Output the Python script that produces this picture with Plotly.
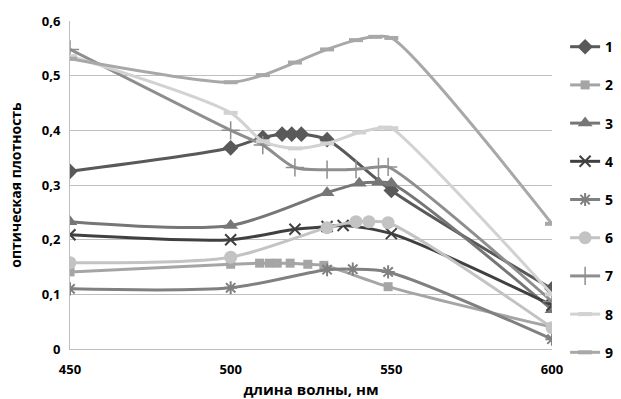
import plotly.graph_objects as go

x1 = [450, 500, 510, 516, 519, 522, 530, 550, 600]
y1 = [0.325, 0.368, 0.387, 0.393, 0.393, 0.393, 0.383, 0.29, 0.11]
x2 = [450, 500, 509, 512, 514.5, 518.5, 524, 529, 549, 600]
y2 = [0.141, 0.155, 0.157, 0.157, 0.157, 0.157, 0.155, 0.153, 0.114, 0.04]
x3 = [450, 500, 530, 540, 546, 550, 600]
y3 = [0.233, 0.226, 0.286, 0.303, 0.305, 0.303, 0.072]
x4 = [450, 500, 520, 530, 535, 550, 600]
y4 = [0.209, 0.2, 0.219, 0.224, 0.226, 0.211, 0.08]
x5 = [450, 500, 530, 538, 549, 600]
y5 = [0.11, 0.112, 0.145, 0.146, 0.141, 0.018]
x6 = [450, 500, 530, 539, 543, 549, 600]
y6 = [0.158, 0.168, 0.222, 0.233, 0.233, 0.231, 0.039]
x7 = [450, 500, 510, 520, 530, 539, 546, 549, 600]
y7 = [0.548, 0.4, 0.373, 0.332, 0.328, 0.329, 0.333, 0.333, 0.087]
x8 = [450, 500, 510, 520, 530, 540, 548, 550, 600]
y8 = [0.536, 0.432, 0.38, 0.367, 0.376, 0.396, 0.405, 0.404, 0.1]
x9 = [450, 500, 510, 520, 530, 539, 545, 550, 600]
y9 = [0.531, 0.488, 0.501, 0.524, 0.548, 0.565, 0.571, 0.569, 0.229]

names = ["1", "2", "3", "4", "5", "6", "7", "8", "9"]
xs = [x1, x2, x3, x4, x5, x6, x7, x8, x9]
ys = [y1, y2, y3, y4, y5, y6, y7, y8, y9]
colors = ["#595959", "#a5a5a5", "#767676", "#404040", "#808080",
          "#c3c3c3", "#8e8e8e", "#d2d2d2", "#a8a8a8"]
symbols = ["diamond", "square", "triangle-up", "x-thin-open", "asterisk-open",
           "circle", "cross-thin-open", "line-ew-open", "line-ew-open"]
sizes = [12, 9, 13, 11, 11, 13, 13, 10, 10]
mlw = [0, 0, 0, 2, 2, 0, 1.5, 4, 4]

fig = go.Figure()
for i in range(9):
    fig.add_trace(go.Scatter(
        x=xs[i], y=ys[i], name=names[i], mode="lines+markers",
        line=dict(color=colors[i], width=3, shape="spline", smoothing=0.8),
        marker=dict(symbol=symbols[i], size=sizes[i], color=colors[i],
                    line=dict(color=colors[i], width=mlw[i])),
        legendgroup=names[i],
    ))

fig.update_layout(
    width=621, height=399,
    margin=dict(l=70, r=69, t=21, b=50),
    paper_bgcolor="white", plot_bgcolor="white",
    separators=", ",
    font=dict(family="Open Sans", size=13, color="#000000"),
    showlegend=True,
    legend=dict(xref="container", yref="container",
                x=0.91, y=0.922, xanchor="left", yanchor="top",
                maxheight=1,
                font=dict(size=14, family="Open Sans", weight="bold"),
                tracegroupgap=17, itemwidth=30,
                bgcolor="rgba(0,0,0,0)"),
    xaxis=dict(range=[450, 600], tickvals=[450, 500, 550, 600],
               showgrid=False, showline=True, linecolor="#bfbfbf", linewidth=1,
               zeroline=False, ticks="", automargin=False,
               ticklabelstandoff=8,
               tickfont=dict(size=13, family="Open Sans", weight="bold"),
               title=dict(text="длина волны, нм", standoff=7,
                          font=dict(size=15, family="Open Sans", weight="bold"))),
    yaxis=dict(range=[0, 0.6], tickvals=[0, 0.1, 0.2, 0.3, 0.4, 0.5, 0.6],
               showgrid=True, gridcolor="#bfbfbf", gridwidth=1,
               showline=True, linecolor="#bfbfbf", linewidth=1,
               zeroline=False, ticks="", automargin=False,
               ticklabelstandoff=6,
               tickfont=dict(size=13, family="Open Sans", weight="bold"),
               title=dict(text="оптическая плотность", standoff=16,
                          font=dict(size=14, family="Open Sans", weight="bold"))),
)

fig.write_html("out.html", config={"displayModeBar": False},
               post_script="document.body.style.margin='0';")
